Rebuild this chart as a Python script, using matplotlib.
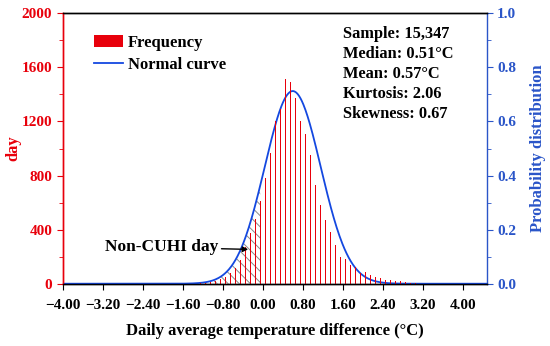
import numpy as np
import matplotlib.pyplot as plt
from matplotlib.ticker import MultipleLocator

plt.rcParams['font.family'] = ['Liberation Serif', 'DejaVu Serif']
plt.rcParams['font.weight'] = 'bold'
plt.rcParams['hatch.linewidth'] = 0.7

# bin centres (degC) and day counts
bin_centres = [-1.25, -1.15, -1.05, -0.95, -0.85, -0.75, -0.65, -0.55, -0.45, -0.35,
               -0.25, -0.15, -0.05, 0.05, 0.15, 0.25, 0.35, 0.45, 0.55, 0.65,
               0.75, 0.85, 0.95, 1.05, 1.15, 1.25, 1.35, 1.45, 1.55, 1.65,
               1.75, 1.85, 1.95, 2.05, 2.15, 2.25, 2.35, 2.45, 2.55, 2.65,
               2.75, 2.85, 2.95, 3.05]
day_counts = [4, 7, 12, 22, 35, 52, 77, 114, 175, 269,
              375, 480, 610, 780, 965, 1205, 1295, 1514, 1490, 1376,
              1206, 1110, 950, 730, 582, 471, 380, 286, 195, 183,
              138, 121, 81, 89, 64, 52, 44, 27, 27, 20,
              18, 12, 8, 5]

# normal curve parameters
curve_mean = 0.60
curve_sd = 0.56

xticks = [-4.0, -3.2, -2.4, -1.6, -0.8, 0.0, 0.8, 1.6, 2.4, 3.2, 4.0]
xtick_labels = ['\u22124.00', '\u22123.20', '\u22122.40', '\u22121.60', '\u22120.80',
                '0.00', '0.80', '1.60', '2.40', '3.20', '4.00']

stats_lines = ['Sample: 15,347', 'Median: 0.51\u00b0C', 'Mean: 0.57\u00b0C',
               'Kurtosis: 2.06', 'Skewness: 0.67']

red = '#e8000b'
blue = '#1448e0'
axis_blue = '#2a55c8'

fig = plt.figure(figsize=(5.5, 3.46), dpi=100)
ax = fig.add_axes([0.114, 0.18, 0.771, 0.7816])
ax2 = ax.twinx()

xs = np.linspace(-4.0, 4.48, 600)
pdf = np.exp(-(xs - curve_mean) ** 2 / (2 * curve_sd ** 2)) / (curve_sd * np.sqrt(2 * np.pi))

# hatched area for non-CUHI days
mask = xs <= -0.04
ax2.fill_between(xs[mask], 0, pdf[mask], facecolor='none', edgecolor='#8a8a8a',
                 hatch='\\\\\\', linewidth=0, zorder=1)

bars = ax.bar(bin_centres, day_counts, width=0.026, color=red, zorder=2,
              label='Frequency')
line, = ax2.plot(xs, pdf, color=blue, lw=1.3, zorder=3, label='Normal curve')

ax.set_zorder(ax2.get_zorder() + 1)
ax.patch.set_visible(False)

ax.set_xlim(-4.0, 4.48)
ax.set_ylim(0, 2000)
ax2.set_ylim(0, 1.0)

ax.set_xticks(xticks)
ax.set_xticklabels(xtick_labels)
ax.yaxis.set_major_locator(MultipleLocator(400))
ax.yaxis.set_minor_locator(MultipleLocator(200))
ax2.yaxis.set_major_locator(MultipleLocator(0.2))
ax2.yaxis.set_minor_locator(MultipleLocator(0.1))
ax2.set_yticklabels(['%.1f' % v for v in ax2.get_yticks()])

ax.tick_params(axis='x', direction='out', length=4, labelsize=11, pad=7)
ax.tick_params(axis='y', which='both', colors=red, labelsize=11)
ax.tick_params(axis='y', which='major', length=4)
ax.tick_params(axis='y', which='minor', length=3)
ax2.tick_params(axis='y', which='both', colors=axis_blue, labelsize=11)
ax2.tick_params(axis='y', which='major', length=4)
ax2.tick_params(axis='y', which='minor', length=3)

ax.spines['left'].set_color(red)
ax2.spines['left'].set_color(red)
ax2.spines['right'].set_color(axis_blue)
ax.spines['right'].set_visible(False)
for sp in ax.spines.values():
    sp.set_linewidth(1.0)
for sp in ax2.spines.values():
    sp.set_linewidth(1.0)

ax.set_xlabel('Daily average temperature difference (\u00b0C)', fontsize=12,
              fontweight='bold', labelpad=8)
ax.set_ylabel('day', fontsize=12, color=red, fontweight='bold', labelpad=0)
ax2.set_ylabel('Probability distribution', fontsize=12, color=axis_blue,
               fontweight='bold', labelpad=10)

ax.legend(handles=[bars, line], loc='upper left', bbox_to_anchor=(0.05, 0.958),
          frameon=False, fontsize=12, handlelength=1.75, handleheight=0.7,
          handletextpad=0.3, labelspacing=0.4, borderaxespad=0.2)

ax.text(0.662, 0.952, '\n'.join(stats_lines), transform=ax.transAxes, ha='left', va='top',
        fontsize=11.8, fontweight='bold', linespacing=1.33)

ax.annotate('Non-CUHI day', xy=(-0.29, 254), xytext=(-0.88, 269),
            ha='right', va='center', fontsize=12.5, fontweight='bold',
            arrowprops=dict(arrowstyle='-|>', color='black', lw=1.0,
                            mutation_scale=8, shrinkA=0, shrinkB=0))

fig.savefig('out.png', dpi=100)
